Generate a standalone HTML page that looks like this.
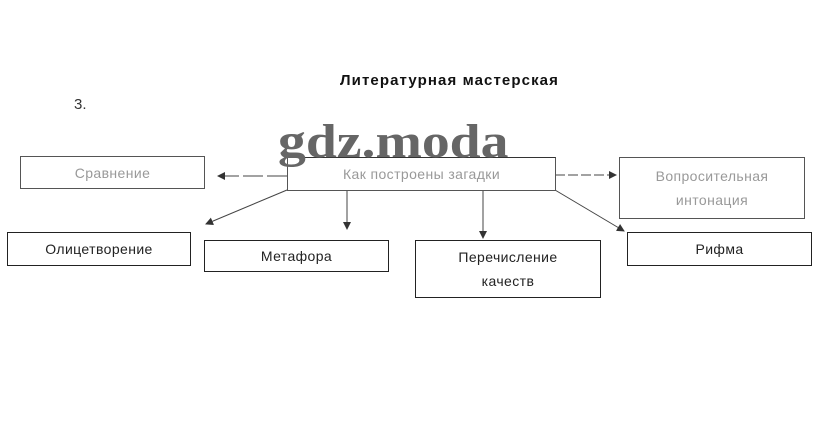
<!DOCTYPE html>
<html><head><meta charset="utf-8"><style>
body{margin:0;width:823px;height:426px;background:#fff;position:relative;overflow:hidden;font-family:"Liberation Sans","DejaVu Sans",sans-serif;}
.b{position:absolute;border:1px solid #222;box-sizing:border-box;display:flex;align-items:center;justify-content:center;text-align:center;font-size:14px;color:#222;line-height:24px;letter-spacing:0.4px}
.l{border-color:#555;color:#999}
.t{position:absolute;font-size:15px;color:#111}
</style></head><body>
<div class="t" style="left:340px;top:72px;font-weight:bold;letter-spacing:1.1px">Литературная мастерская</div>
<div class="t" style="left:74px;top:96px;color:#333">3.</div>
<svg width="823" height="426" style="position:absolute;left:0;top:0">
<defs><marker id="a" markerWidth="8" markerHeight="8" refX="7" refY="4" orient="auto"><path d="M0,0 L8,4 L0,8z" fill="#333"/></marker></defs>
<g stroke="#444" stroke-width="1" fill="none">
<line x1="287" y1="176" x2="218" y2="176" marker-end="url(#a)" stroke-dasharray="20,4"/>
<line x1="287" y1="190" x2="206" y2="224" marker-end="url(#a)"/>
<line x1="347" y1="190" x2="347" y2="229" marker-end="url(#a)"/>
<line x1="483" y1="190" x2="483" y2="238" marker-end="url(#a)"/>
<line x1="555" y1="175" x2="616" y2="175" marker-end="url(#a)" stroke-dasharray="10,3"/>
<line x1="555" y1="190" x2="624" y2="231" marker-end="url(#a)"/>
</g>
</svg>
<div class="b l" style="left:20px;top:156px;width:185px;height:33px">Сравнение</div>
<div class="b l" style="left:287px;top:157px;width:269px;height:34px;border-top-color:#333">Как построены загадки</div>
<div class="b l" style="left:619px;top:157px;width:186px;height:62px">Вопросительная<br>интонация</div>
<div class="b" style="left:7px;top:232px;width:184px;height:34px">Олицетворение</div>
<div class="b" style="left:204px;top:240px;width:185px;height:32px">Метафора</div>
<div class="b" style="left:415px;top:240px;width:186px;height:58px">Перечисление<br>качеств</div>
<div class="b" style="left:627px;top:232px;width:185px;height:34px">Рифма</div>
<div style="position:absolute;left:278px;top:114px;font-family:'Liberation Serif',serif;font-weight:bold;font-size:48px;color:#666;transform:scaleX(1.16);transform-origin:0 0;white-space:nowrap">gdz.moda</div>
</body></html>
